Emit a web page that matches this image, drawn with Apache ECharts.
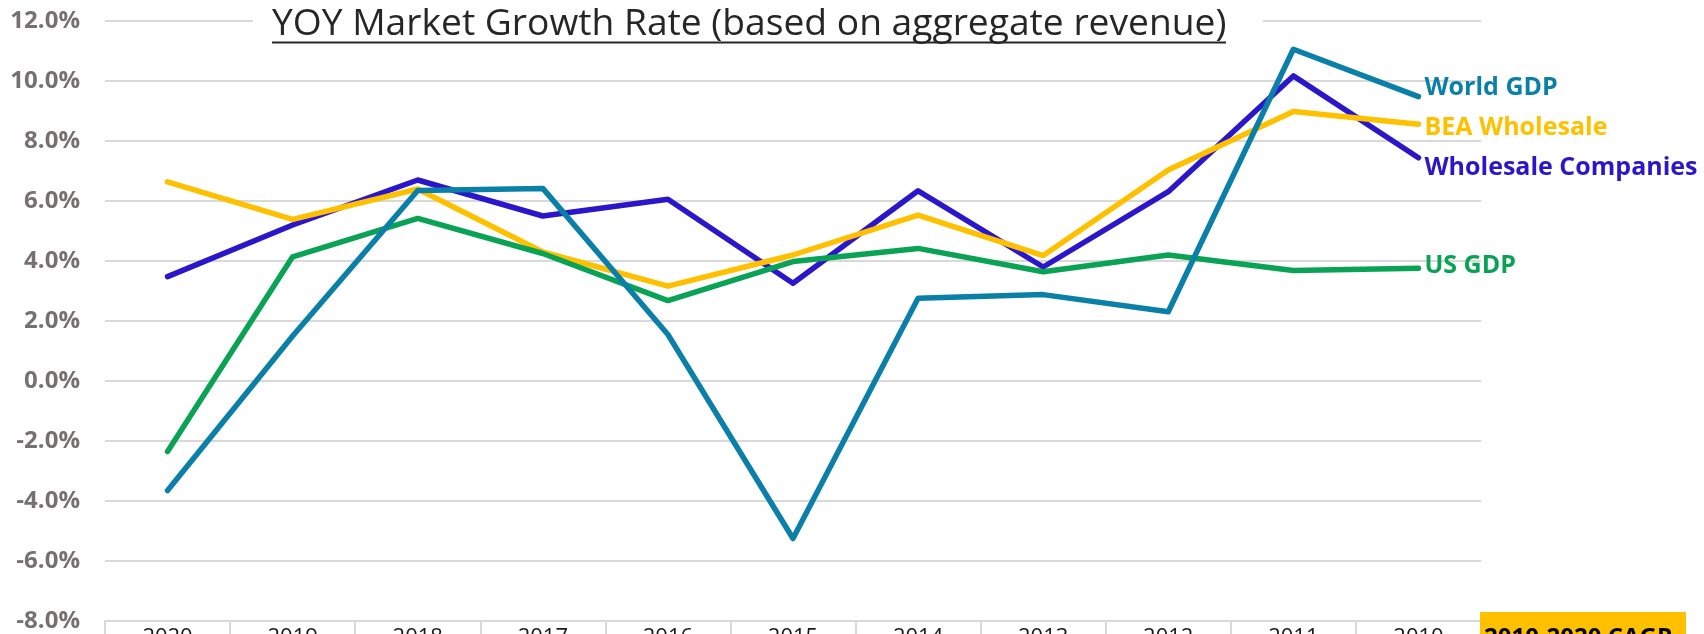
<!DOCTYPE html>
<html>
<head>
<meta charset="utf-8">
<title>YOY Market Growth Rate</title>
<script src="https://cdn.jsdelivr.net/npm/echarts@6.0.0/dist/echarts.min.js"></script>
<style>
  html, body { margin: 0; padding: 0; background: #fff; }
  #chart { width: 1704px; height: 634px; }
</style>
</head>
<body>
<div id="chart"></div>
<script>
// 年份（从左到右倒序）
const categories = ['2020', '2019', '2018', '2017', '2016', '2015', '2014', '2013', '2012', '2011', '2010']

// 各系列增长率 (%)
const worldGdp = [-3.65, 1.5, 6.35, 6.42, 1.55, -5.25, 2.76, 2.88, 2.31, 11.06, 9.48]
const beaWholesale = [6.64, 5.39, 6.4, 4.3, 3.16, 4.2, 5.53, 4.18, 7.03, 8.98, 8.56]
const wholesaleCompanies = [3.48, 5.2, 6.7, 5.5, 6.06, 3.26, 6.34, 3.8, 6.31, 10.17, 7.44]
const usGdp = [-2.35, 4.14, 5.42, 4.25, 2.68, 3.98, 4.42, 3.64, 4.2, 3.68, 3.76]

const yMin = -8
const yMax = 12
const yStep = 2

const titleText = 'YOY Market Growth Rate (based on aggregate revenue)'
const cagrText = '2010-2020 CAGR'

const FONT = '"Open Sans", "Liberation Sans", sans-serif'

// fit title width to the reference
function titleFontSize(targetWidth) {
  const ctx = document.createElement('canvas').getContext('2d')
  ctx.font = '40px ' + FONT
  const w = ctx.measureText(titleText).width
  return Math.round(40 * targetWidth / w * 10) / 10
}

const titleLeft = 272
const titleWidth = 954
const titleSize = titleFontSize(titleWidth)

function makeSeries(name, data, color, labelOffset) {
  return {
    name: name,
    type: 'line',
    data: data,
    symbol: 'none',
    silent: true,
    lineStyle: {
      color: color,
      width: 5.5,
      cap: 'round',
      join: 'round'
    },
    itemStyle: { color: color },
    endLabel: {
      show: true,
      formatter: '{a}',
      color: color,
      fontFamily: FONT,
      fontSize: 25,
      fontWeight: 'bold',
      distance: 6,
      offset: labelOffset
    }
  }
}

const chart = echarts.init(document.getElementById('chart'), null, { renderer: 'canvas' })

const option = {
  animation: false,
  backgroundColor: '#fff',
  grid: {
    left: 105,
    right: 223,
    top: 21,
    bottom: 13,
    containLabel: false,
    outerBoundsMode: 'none'
  },
  xAxis: {
    type: 'category',
    data: categories,
    boundaryGap: true,
    axisLine: {
      show: true,
      onZero: false,
      lineStyle: { color: '#d9d9d9', width: 2 }
    },
    axisTick: {
      show: true,
      interval: 0,
      length: 20,
      lineStyle: { color: '#d9d9d9', width: 2 }
    },
    axisLabel: {
      interval: 0,
      margin: 6,
      color: '#1a1a1a',
      fontFamily: FONT,
      fontSize: 22
    },
    splitLine: { show: false }
  },
  yAxis: {
    type: 'value',
    min: yMin,
    max: yMax,
    interval: yStep,
    axisLine: { show: false },
    axisTick: { show: false },
    axisLabel: {
      margin: 25,
      color: '#767171',
      fontFamily: FONT,
      fontSize: 24,
      fontWeight: 'bold',
      formatter: v => v.toFixed(1) + '%'
    },
    splitLine: {
      lineStyle: { color: '#d9d9d9', width: 2 }
    }
  },
  series: [
    makeSeries('Wholesale Companies', wholesaleCompanies, '#2b17c9', [0, 10]),
    makeSeries('BEA Wholesale', beaWholesale, '#ffc000', [0, 4]),
    makeSeries('US GDP', usGdp, '#0aa356', [0, -2]),
    makeSeries('World GDP', worldGdp, '#0a7fa8', [0, -9])
  ],
  graphic: [
    // 标题底色，遮住顶部网格线
    {
      type: 'rect',
      z: 100,
      shape: { x: 253, y: 0, width: 1010, height: 46 },
      style: { fill: '#fff' }
    },
    {
      type: 'text',
      z: 101,
      style: {
        text: titleText,
        x: titleLeft,
        y: 24,
        fill: '#262626',
        font: titleSize + 'px ' + FONT,
        textVerticalAlign: 'middle'
      }
    },
    {
      type: 'line',
      z: 101,
      shape: { x1: titleLeft, y1: 42.5, x2: titleLeft + titleWidth, y2: 42.5 },
      style: { stroke: '#262626', lineWidth: 2 }
    },
    // 右下角 CAGR 标签
    {
      type: 'rect',
      z: 100,
      shape: { x: 1480, y: 612, width: 206, height: 30 },
      style: { fill: '#ffc000' }
    },
    {
      type: 'text',
      z: 101,
      style: {
        text: cagrText,
        x: 1484,
        y: 626,
        fill: '#000',
        font: 'bold 24px ' + FONT,
        textVerticalAlign: 'top'
      }
    }
  ]
}

chart.setOption(option)
</script>
</body>
</html>
